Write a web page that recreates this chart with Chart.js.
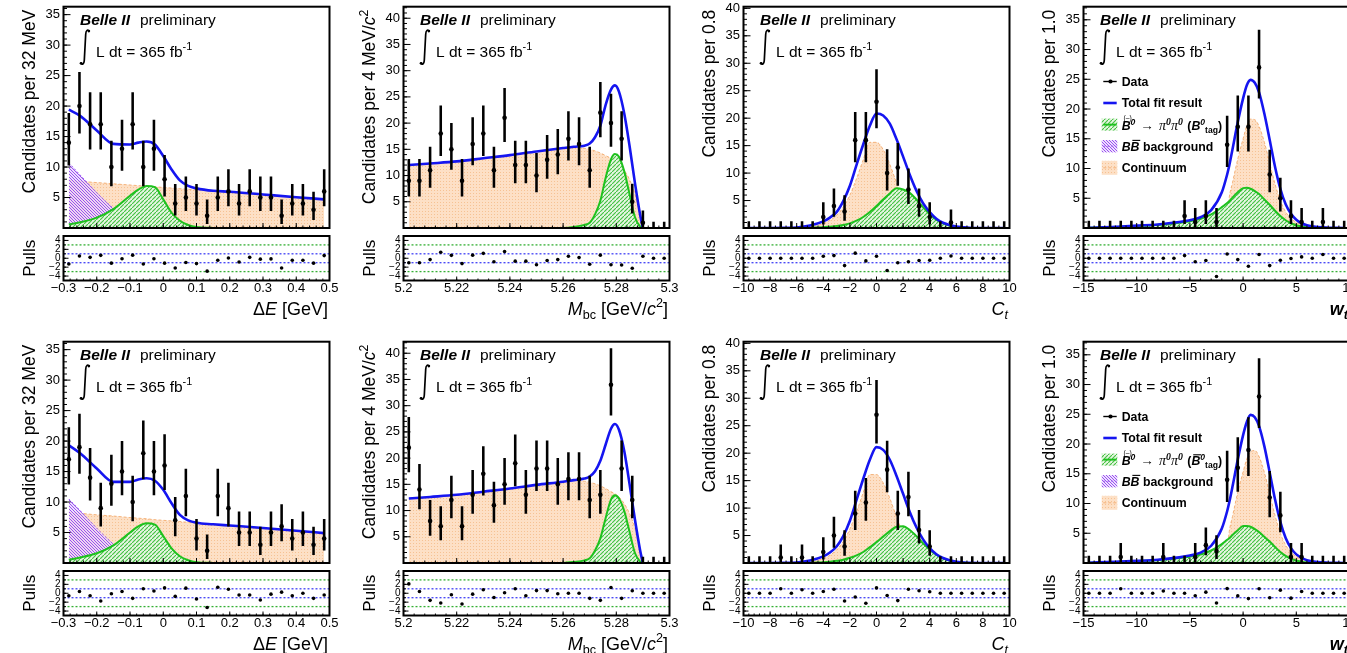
<!DOCTYPE html>
<html lang="en">
<head>
<meta charset="UTF-8">
<title>B0 to pi0 pi0 fit projections</title>
<script src="https://cdn.jsdelivr.net/npm/chart.js"></script>
<style>
  html, body { margin: 0; padding: 0; background: #fff; }
  body { width: 1347px; height: 653px; overflow: hidden; position: relative; }
  canvas { position: absolute; display: block; }
</style>
</head>
<body>
<script>
// ---------------- bin centres ----------------
const deBins = [-0.284,-0.252,-0.22,-0.188,-0.156,-0.124,-0.092,-0.06,-0.028,0.004,0.036,0.068,0.1,0.132,0.164,0.196,0.228,0.26,0.292,0.324,0.356,0.388,0.42,0.452,0.484];
const mbcBins = [5.202,5.206,5.21,5.214,5.218,5.222,5.226,5.23,5.234,5.238,5.242,5.246,5.25,5.254,5.258,5.262,5.266,5.27,5.274,5.278,5.282,5.286,5.29,5.294,5.298];
const ctBins = [-9.6,-8.8,-8,-7.2,-6.4,-5.6,-4.8,-4,-3.2,-2.4,-1.6,-0.8,0,0.8,1.6,2.4,3.2,4,4.8,5.6,6.4,7.2,8,8.8,9.6];
const wtBins = [-14.5,-13.5,-12.5,-11.5,-10.5,-9.5,-8.5,-7.5,-6.5,-5.5,-4.5,-3.5,-2.5,-1.5,-0.5,0.5,1.5,2.5,3.5,4.5,5.5,6.5,7.5,8.5,9.5];

// ---------------- tick labels ----------------
const deTicks = [-0.3,-0.2,-0.1,0,0.1,0.2,0.3,0.4,0.5];
const mbcTicks = [5.2,5.22,5.24,5.26,5.28,5.3];
const ctTicks = [-10,-8,-6,-4,-2,0,2,4,6,8,10];
const wtTicks = [-15,-10,-5,0,5,10];
const yTicks35 = [5,10,15,20,25,30,35];
const yTicks40 = [5,10,15,20,25,30,35,40];
const pullTicks = [-4,-2,0,2,4];
const pullLines = [3,1,-1,-3];

// ---------------- data: counts and pulls (row 1 = B0 tag, row 2 = anti-B0 tag) ----------------
const deCounts1 = [14,20,17,17,10,13,17,10,13,8,4,5,4,2,5,6,4,6,5,5,2,4,4,3,6];
const deCounts2 = [17,19,14,9,13,15,10,18,15,16,7,11,4,2,11,9,5,5,3,5,6,4,5,3,4];
const dePulls1 = [-1.3,0.5,0.2,0.65,-1.1,-0.1,0.7,-1.3,-0.1,-1.1,-2.2,-0.95,-1.2,-2.9,-0.45,0.05,-0.85,0.2,-0.2,-0.15,-2.2,-0.45,-0.45,-1.1,0.6];
const dePulls2 = [-0.55,0.4,-0.55,-1.75,-0.1,0.4,-1.15,1.0,0.5,1.2,-0.7,1.15,-1.3,-3.2,1.35,0.9,-0.4,-0.4,-1.5,-0.2,0.25,-0.55,0,-1.15,-0.4];

const mbcCounts1 = [9,9,11,18,15,9,16,18,11,21,12,12,10,13,14,17,16,11,22,20,17,5,1,0,0];
const mbcCounts2 = [22,14,8,7,12,7,13,17,11,15,19,13,18,18,15,16,16,12,13,34,18,12,0,0,0];
const mbcPulls1 = [-1.0,-1.0,-0.3,1.35,0.65,-1.2,0.7,1.1,-0.8,1.5,-0.65,-0.65,-1.45,-0.5,-0.3,0.45,0.15,-1.35,0.7,-1.45,-1.5,-2.25,0.45,0,0];
const mbcPulls2 = [2.1,0.4,-1.6,-2.2,-0.35,-2.4,-0.2,0.8,-0.95,0.1,1.0,-0.55,0.6,0.6,-0.1,0,0,-1.15,-1.6,1.3,-1.15,0.55,0,0,0];

const ctCounts1 = [0,0,0,0,0,0,0,2,4,3,16,16,23,10,11,7,4,2,0,1,0,0,0,0,0];
const ctCounts2 = [0,0,0,1,0,1,0,2,5,3,9,11,27,17,9,12,6,3,0,0,0,0,0,0,0];
const ctPulls1 = [0,0,0,0,0,0,0,0.45,0.6,-1.65,1.15,-0.6,0.45,-2.75,-1.0,-0.8,-0.5,-0.45,0,0.5,0,0,0,0,0];
const ctPulls2 = [0,0,0,1.0,0,0.8,0,0.4,0.9,-1.75,-0.85,-2.25,1.2,-0.5,-1.65,0.9,0.55,0.35,0,0,0,0,0,0,0];

const wtCounts1 = [0,0,0,0,0,0,0,0,0,2,1,2,1,14,17,17,27,9,5,2,1,0,1,0,0];
const wtCounts2 = [0,0,0,1,0,0,0,1,0,0,1,3,2,14,16,19,28,11,8,1,1,0,0,0,0];
const wtPulls1 = [0,0,0,0,0,0,0,0,0,0.6,-0.8,-0.5,-4.1,0.95,-0.3,-1.8,0.85,-1.65,-0.45,-0.05,0.3,0,0.85,0,0];
const wtPulls2 = [0,0,0,1.0,0,0,0,0.5,0,0,-0.55,0.25,-2.2,1.05,-0.6,-1.2,1.0,-1.0,0.7,-1.1,0.4,0,0,0,0];

// ---------------- fit curves sampled along each observable ----------------
const deGrid = [-0.284,-0.25,-0.2,-0.15,-0.1,-0.075,-0.05,-0.025,0,0.025,0.05,0.075,0.1,0.15,0.2,0.3,0.4,0.484];
const deTotal1 = [19.4,18.4,16.0,13.8,13.7,14.0,14.2,13.7,11.8,9.6,7.8,6.9,6.5,6.1,5.95,5.5,5.05,4.7];
const deCont1 = [7.8,7.65,7.45,7.25,7.05,6.95,6.85,6.75,6.65,6.55,6.45,6.35,6.25,6.05,5.85,5.45,5.05,4.7];
const deSig1 = [0.6,0.95,1.7,3.1,5.3,6.3,6.9,6.7,4.7,2.5,1.2,0.5,0.15,0.02,0,0,0,0];
const deBB1 = [10.7,8.7,5.8,3.2,1.0,0.3,0.05,0,0,0,0,0,0,0,0,0,0,0];
const deTotal2 = [19.3,18.0,15.5,13.3,13.3,13.7,13.9,13.5,12.0,9.8,7.9,7.0,6.6,6.35,6.15,5.75,5.3,4.9];
const deCont2 = [8.3,8.15,7.9,7.7,7.45,7.35,7.25,7.1,7.0,6.9,6.8,6.65,6.55,6.35,6.1,5.65,5.2,4.85];
const deSig2 = [0.55,0.9,1.6,2.9,5.0,6.0,6.5,6.3,4.4,2.4,1.1,0.45,0.13,0.02,0,0,0,0];
const deBB2 = [10.5,8.6,5.7,3.1,1.0,0.3,0.05,0,0,0,0,0,0,0,0,0,0,0];

const mbcGrid = [5.202,5.21,5.22,5.23,5.24,5.25,5.26,5.264,5.268,5.27,5.272,5.274,5.276,5.278,5.2795,5.281,5.283,5.285,5.287,5.289,5.29];
const mbcTotal1 = [12.0,12.3,12.7,13.3,13.9,14.6,15.25,15.5,15.7,16.1,17.3,19.5,23.5,26.4,27.2,26.0,21.8,15.6,8.6,2.4,0];
const mbcCont1 = [12.0,12.3,12.7,13.3,13.9,14.6,15.2,15.3,15.2,15.0,14.7,14.3,13.8,13.3,12.9,12.3,11.0,9.2,6.5,2.2,0];
const mbcSig1 = [0,0,0,0,0,0,0.02,0.2,0.6,1.0,2.6,5.2,9.6,13.1,14.1,13.6,10.8,6.4,2.1,0.25,0];
const mbcBB1 = [0,0,0,0,0,0,0,0.05,0.1,0.12,0.15,0.2,0.25,0.3,0.3,0.3,0.25,0.2,0.1,0.02,0];
const mbcTotal2 = [12.3,12.6,13.0,13.6,14.2,14.9,15.5,15.8,16.1,16.5,17.5,19.5,22.6,25.6,26.5,25.4,21.3,15.0,8.3,2.3,0];
const mbcCont2 = [12.3,12.6,13.0,13.6,14.2,14.9,15.5,15.7,15.6,15.4,15.1,14.7,14.2,13.6,13.2,12.6,11.3,9.4,6.6,2.2,0];
const mbcSig2 = [0,0,0,0,0,0,0.02,0.2,0.5,0.9,2.4,4.7,8.6,12.1,12.9,12.3,9.9,5.9,1.9,0.25,0];
const mbcBB2 = [0,0,0,0,0,0,0,0.05,0.1,0.12,0.15,0.2,0.25,0.3,0.3,0.3,0.25,0.2,0.1,0.02,0];

const ctGrid = [-9.6,-8,-7,-6,-5,-4,-3.5,-3,-2.5,-2,-1.5,-1,-0.5,0,0.5,1,1.5,2,2.5,3,3.5,4,4.5,5,6,7,8,9.6];
const ctTotal1 = [0,0,0.02,0.1,0.45,1.2,1.9,2.9,4.9,7.7,11.5,15.2,18.6,20.85,20.5,19.0,16.2,13.0,9.7,6.8,4.5,2.9,1.7,0.95,0.25,0.05,0.01,0];
const ctCont1 = [0,0,0,0.02,0.15,0.8,1.4,2.3,3.8,6.0,9.0,12.4,15.6,15.6,14.3,11.6,8.3,5.4,3.1,1.6,0.7,0.3,0.1,0.03,0,0,0,0];
const ctSig1 = [0,0,0,0.02,0.06,0.15,0.25,0.35,0.55,0.85,1.35,2.0,2.9,4.0,5.2,6.3,7.25,7.0,6.4,5.2,3.8,2.5,1.5,0.85,0.2,0.02,0,0];
const ctBB1 = [0,0,0,0,0,0.02,0.03,0.05,0.08,0.1,0.13,0.17,0.2,0.22,0.22,0.2,0.17,0.13,0.1,0.07,0.04,0.02,0.01,0,0,0,0,0];
const ctTotal2 = [0,0,0.02,0.1,0.45,1.2,1.9,3.0,4.9,7.7,11.5,15.3,18.8,21.1,20.6,18.8,15.9,12.6,9.3,6.5,4.3,2.7,1.6,0.9,0.2,0.04,0.01,0];
const ctCont2 = [0,0,0,0.02,0.15,0.8,1.4,2.4,3.9,6.2,9.3,12.8,16.1,16.1,14.6,11.8,8.4,5.4,3.1,1.6,0.7,0.3,0.1,0.03,0,0,0,0];
const ctSig2 = [0,0,0,0.02,0.06,0.15,0.25,0.4,0.6,0.95,1.4,2.0,2.9,3.8,4.8,5.8,6.6,6.7,6.0,4.9,3.6,2.4,1.5,0.85,0.2,0.02,0,0];
const ctBB2 = [0,0,0,0,0,0.02,0.03,0.05,0.08,0.1,0.13,0.17,0.2,0.22,0.22,0.2,0.17,0.13,0.1,0.07,0.04,0.02,0.01,0,0,0,0,0];

const wtGrid = [-14.5,-12,-10,-8,-6,-5,-4,-3,-2,-1.5,-1.3,-1,-0.5,0,0.35,0.7,1.1,1.5,2,2.5,3,3.5,4,4.5,5,5.5,6,7,8,9.5];
const wtTotal1 = [0.05,0.2,0.4,0.6,1.0,1.3,1.8,3.0,6.0,9.0,10.5,13.2,17.8,21.8,24.0,24.9,24.4,22.8,19.2,14.8,10.3,6.6,4.0,2.4,1.4,0.8,0.45,0.15,0.05,0.01];
const wtCont1 = [0,0,0,0,0,0,0,0,0,2.0,5.2,7.6,11.6,15.0,17.2,18.3,18.2,17.1,14.4,10.9,7.4,4.6,2.7,1.6,0.95,0.55,0.33,0.12,0.05,0];
const wtSig1 = [0.05,0.18,0.35,0.55,0.9,1.15,1.55,2.3,3.5,4.2,4.5,5.1,6.0,6.7,6.75,6.6,6.2,5.7,4.8,3.9,2.9,2.0,1.3,0.8,0.45,0.25,0.12,0.03,0,0];
const wtBB1 = [0,0,0,0,0,0.02,0.04,0.07,0.1,0.12,0.13,0.15,0.18,0.2,0.2,0.19,0.17,0.15,0.12,0.09,0.06,0.04,0.02,0.01,0,0,0,0,0,0];
const wtTotal2 = [0.05,0.2,0.35,0.55,0.95,1.25,1.75,2.9,5.8,8.7,10.2,12.8,17.4,21.5,23.7,24.9,24.5,23.0,19.6,15.2,10.7,6.9,4.2,2.5,1.45,0.85,0.48,0.15,0.05,0.01];
const wtCont2 = [0,0,0,0,0,0,0,0,0,2.0,5.3,7.8,11.9,15.3,17.5,18.7,18.9,17.9,15.2,11.6,8.0,5.0,3.0,1.8,1.05,0.6,0.36,0.12,0.05,0];
const wtSig2 = [0.05,0.17,0.32,0.5,0.83,1.06,1.43,2.1,3.2,3.9,4.15,4.7,5.5,6.2,6.2,6.1,5.7,5.2,4.4,3.6,2.7,1.85,1.2,0.74,0.41,0.23,0.11,0.03,0,0];
const wtBB2 = [0,0,0,0,0,0.02,0.04,0.07,0.1,0.12,0.13,0.15,0.18,0.2,0.2,0.19,0.17,0.15,0.12,0.09,0.06,0.04,0.02,0.01,0,0,0,0,0,0];

// ---------------- look ----------------
const SANS = "'Liberation Sans', Arial, Helvetica, sans-serif";
const SERIF = "'Liberation Serif', 'Times New Roman', serif";
const BLUE = '#1515f0', GREEN = '#1ec21e', GREEN_HATCH = '#3fbf3f', GREEN_BG = '#e6f6e1',
      PURPLE = '#9b59f0', PURPLE_HATCH = '#9a52ee', PURPLE_BG = 'rgba(232,214,255,0.75)',
      ORANGE_LINE = '#f4b27a', PEACH = '#fde0c6', PEACH_DOT = '#f6c293',
      BAND_GREEN = '#34b034', BAND_BLUE = '#4242f5';

const PAD_W = 340, MAIN_H = 232, PULL_H = 100;
const FR = { left: 63.5, right: 329.5, top: 6.7, bottom: 229.3 };
const PF = { top: 1.8, bottom: 48.5 };
const COL_X = [0, 340, 680, 1020];
const ROW_Y = [0, 335];

const lumiText = [{ t: 'L dt = 365 fb' }, { t: '-1', sup: 1 }];
const legendY = [74.8, 96.3, 117.9, 139.5, 161.1];

const panels = [
  { bins: deBins, counts: [deCounts1, deCounts2], pulls: [dePulls1, dePulls2], grid: deGrid,
    total: [deTotal1, deTotal2], sig: [deSig1, deSig2], bb: [deBB1, deBB2], cont: [deCont1, deCont2],
    xMin: -0.3, xMax: 0.5, xTicks: deTicks, xMinor: 0.02, yMax: 36.3, yTicks: yTicks35,
    xTitle: [{ t: 'Δ' }, { t: 'E', i: 1 }, { t: ' [GeV]' }],
    yTitle: [{ t: 'Candidates per 32 MeV' }] },
  { bins: mbcBins, counts: [mbcCounts1, mbcCounts2], pulls: [mbcPulls1, mbcPulls2], grid: mbcGrid,
    total: [mbcTotal1, mbcTotal2], sig: [mbcSig1, mbcSig2], bb: [mbcBB1, mbcBB2], cont: [mbcCont1, mbcCont2],
    xMin: 5.2, xMax: 5.3, xTicks: mbcTicks, xMinor: 0.004, yMax: 42.2, yTicks: yTicks40,
    xTitle: [{ t: 'M', i: 1 }, { t: 'bc', sub: 1 }, { t: ' [GeV/' }, { t: 'c', i: 1 }, { t: '2', sup: 1 }, { t: ']' }],
    yTitle: [{ t: 'Candidates per 4 MeV/' }, { t: 'c', i: 1 }, { t: '2', sup: 1 }] },
  { bins: ctBins, counts: [ctCounts1, ctCounts2], pulls: [ctPulls1, ctPulls2], grid: ctGrid,
    total: [ctTotal1, ctTotal2], sig: [ctSig1, ctSig2], bb: [ctBB1, ctBB2], cont: [ctCont1, ctCont2],
    xMin: -10, xMax: 10, xTicks: ctTicks, xMinor: 0.4, yMax: 40.3, yTicks: yTicks40,
    xTitle: [{ t: 'C', i: 1 }, { t: 't', i: 1, sub: 1 }],
    yTitle: [{ t: 'Candidates per 0.8' }] },
  { bins: wtBins, counts: [wtCounts1, wtCounts2], pulls: [wtPulls1, wtPulls2], grid: wtGrid,
    total: [wtTotal1, wtTotal2], sig: [wtSig1, wtSig2], bb: [wtBB1, wtBB2], cont: [wtCont1, wtCont2],
    xMin: -15, xMax: 10, xTicks: wtTicks, xMinor: 1, yMax: 37.2, yTicks: yTicks35,
    xTitle: [{ t: 'w', i: 1, b: 1 }, { t: 't', i: 1, b: 1, sub: 1 }],
    yTitle: [{ t: 'Candidates per 1.0' }] }
];

// ---------------- helpers ----------------
// 68% Poisson interval (Gehrels approximation); empty bins get a short upward bar
function poissonBand(n) {
  if (n === 0) return [0, 1.15];
  const lo = n * Math.pow(1 - 1 / (9 * n) - 1 / (3 * Math.sqrt(n)), 3);
  const hi = (n + 1) * Math.pow(1 - 1 / (9 * (n + 1)) + 1 / (3 * Math.sqrt(n + 1)), 3);
  return [lo, hi];
}

const fmtTick = v => String(Math.round(v * 1000) / 1000).replace('-', '\u2212');

function steps(min, max, step) {
  const out = [];
  const k0 = Math.ceil(min / step - 1e-6), k1 = Math.floor(max / step + 1e-6);
  for (let k = k0; k <= k1; k++) out.push(k * step);
  return out;
}

// keep the frame exactly where the layout puts it: no extra room for edge labels
function noLabelPadding(s) {
  s.paddingTop = 0; s.paddingBottom = 0; s.paddingLeft = 0; s.paddingRight = 0;
}

function makeCanvas(left, top, w, h) {
  const c = document.createElement('canvas');
  c.width = w; c.height = h;
  c.style.left = left + 'px'; c.style.top = top + 'px';
  c.style.width = w + 'px'; c.style.height = h + 'px';
  document.body.appendChild(c);
  return c;
}

function hatch(ctx, bg, fg, slash, step, lw) {
  const t = document.createElement('canvas');
  t.width = t.height = step;
  const g = t.getContext('2d');
  if (bg) { g.fillStyle = bg; g.fillRect(0, 0, step, step); }
  g.strokeStyle = fg; g.lineWidth = lw;
  g.beginPath();
  if (slash) {
    g.moveTo(-1, step + 1); g.lineTo(step + 1, -1);
  } else {
    g.moveTo(-1, -1); g.lineTo(step + 1, step + 1);
  }
  g.stroke();
  return ctx.createPattern(t, 'repeat');
}

function dots(ctx) {
  const t = document.createElement('canvas');
  t.width = t.height = 3;
  const g = t.getContext('2d');
  g.fillStyle = PEACH; g.fillRect(0, 0, 3, 3);
  g.fillStyle = PEACH_DOT; g.fillRect(1, 1, 1, 1);
  return ctx.createPattern(t, 'repeat');
}

function fontStr(sz, b, i, serif) {
  return (i ? 'italic ' : '') + (b ? 'bold ' : '') + sz + 'px ' + (serif ? SERIF : SANS);
}

// text run with italics, super/subscripts, bars and the (-) accent
function drawRich(ctx, x, y, parts, size, align) {
  const run = parts.map(p => {
    const base = size * (p.k || 1);
    const sz = (p.sup || p.sub) ? base * 0.7 : base;
    const font = fontStr(sz, p.b, p.i, p.serif);
    ctx.font = font;
    return { p, sz, font, w: ctx.measureText(p.t).width + (p.gap || 0) };
  });
  const total = run.reduce((s, r) => s + r.w, 0);
  let cx = align === 'right' ? x - total : align === 'center' ? x - total / 2 : x;
  ctx.textAlign = 'left';
  ctx.textBaseline = 'alphabetic';
  for (const r of run) {
    ctx.font = r.font;
    const dy = r.p.sup ? -0.42 * size : r.p.sub ? 0.24 * size : 0;
    ctx.fillText(r.p.t, cx, y + dy);
    if (r.p.over) {
      ctx.save();
      ctx.strokeStyle = ctx.fillStyle; ctx.lineWidth = 1.1;
      ctx.beginPath();
      ctx.moveTo(cx + 1.8, y - 0.83 * size); ctx.lineTo(cx + r.w + 0.8, y - 0.83 * size);
      ctx.stroke();
      ctx.restore();
    }
    if (r.p.acc) {
      ctx.save();
      ctx.font = fontStr(size * 0.55, false, false, false);
      ctx.textAlign = 'center';
      ctx.fillText('(\u2013)', cx + r.w / 2 + 1.5, y - 0.82 * size);
      ctx.restore();
    }
    cx += r.w;
  }
  return total;
}

function marks(ctx, scale, a, axis, vals, len) {
  ctx.beginPath();
  for (const v of vals) {
    const q = scale.getPixelForValue(v);
    if (axis === 'x') { ctx.moveTo(q, a.bottom); ctx.lineTo(q, a.bottom - len); }
    else { ctx.moveTo(a.left, q); ctx.lineTo(a.left + len, q); }
  }
  ctx.stroke();
}

function integral(ctx, L, T) {
  ctx.save();
  ctx.strokeStyle = '#000'; ctx.fillStyle = '#000';
  ctx.lineWidth = 1.7; ctx.lineCap = 'round';
  ctx.beginPath();
  ctx.moveTo(L + 25.3, T + 24.6);
  ctx.bezierCurveTo(L + 24.5, T + 22.6, L + 22.4, T + 23.2, L + 22.2, T + 27.5);
  ctx.lineTo(L + 20.8, T + 53.5);
  ctx.bezierCurveTo(L + 20.6, T + 57.8, L + 18.4, T + 58.4, L + 17.6, T + 56.4);
  ctx.stroke();
  ctx.beginPath(); ctx.arc(L + 25.4, T + 24.4, 1.3, 0, 2 * Math.PI); ctx.fill();
  ctx.beginPath(); ctx.arc(L + 17.6, T + 56.6, 1.4, 0, 2 * Math.PI); ctx.fill();
  ctx.restore();
}

function drawLegend(ctx, a, row, pats) {
  const L = a.left, T = a.top;
  const ys = legendY.map(v => T + v);
  const x0 = L + 19.8, x1 = L + 33.2, bx = L + 18.2, bw = 15.6, tx = L + 38.2;
  const seg = (y) => { ctx.beginPath(); ctx.moveTo(x0, y); ctx.lineTo(x1, y); ctx.stroke(); };
  ctx.save();
  // data
  ctx.strokeStyle = '#000'; ctx.lineWidth = 1.4; seg(ys[0]);
  ctx.fillStyle = '#000'; ctx.beginPath(); ctx.arc(L + 27, ys[0], 2.1, 0, 2 * Math.PI); ctx.fill();
  // total fit
  ctx.strokeStyle = BLUE; ctx.lineWidth = 2.6; seg(ys[1]);
  // signal
  ctx.fillStyle = pats.sig; ctx.fillRect(bx, ys[2] - 6, bw, 12);
  ctx.strokeStyle = GREEN; ctx.lineWidth = 2; seg(ys[2]);
  // BB background
  ctx.fillStyle = pats.bb; ctx.fillRect(bx, ys[3] - 6.2, bw, 12.4);
  ctx.strokeStyle = PURPLE; ctx.lineWidth = 1; ctx.setLineDash([2, 2]); seg(ys[3]);
  // continuum
  ctx.fillStyle = pats.cont; ctx.fillRect(bx, ys[4] - 7, bw, 14);
  ctx.strokeStyle = ORANGE_LINE; ctx.setLineDash([3, 2]); seg(ys[4]);
  ctx.setLineDash([]);

  ctx.fillStyle = '#000';
  const s = 12.3, dy = 4.4;
  drawRich(ctx, tx, ys[0] + dy, [{ t: 'Data', b: 1 }], s, 'left');
  drawRich(ctx, tx, ys[1] + dy, [{ t: 'Total fit result', b: 1 }], s, 'left');
  drawRich(ctx, tx, ys[2] + dy + 1, [
    { t: 'B', b: 1, i: 1, acc: 1 }, { t: '0', b: 1, i: 1, sup: 1, gap: 5 },
    { t: '\u2192', k: 1.1, gap: 5 },
    { t: '\u03c0', i: 1, serif: 1, k: 1.15 }, { t: '0', i: 1, b: 1, sup: 1, serif: 1, k: 1.15 },
    { t: '\u03c0', i: 1, serif: 1, k: 1.15 }, { t: '0', i: 1, b: 1, sup: 1, serif: 1, k: 1.15, gap: 1 },
    { t: ' (', b: 1 }, { t: 'B', b: 1, i: 1, over: row === 1 }, { t: '0', b: 1, i: 1, sup: 1 },
    { t: 'tag', b: 1, sub: 1 }, { t: ')', b: 1 }
  ], s, 'left');
  drawRich(ctx, tx, ys[3] + dy, [{ t: 'B', b: 1, i: 1 }, { t: 'B', b: 1, i: 1, over: 1 }, { t: ' background', b: 1 }], s, 'left');
  drawRich(ctx, tx, ys[4] + dy, [{ t: 'Continuum', b: 1 }], s, 'left');
  ctx.restore();
}

function mainDecor(p, row, withLegend, pats) {
  return {
    id: 'mainDecor',
    afterDatasetsDraw(chart) {
      const { ctx, chartArea: a, scales } = chart;
      ctx.save();
      ctx.strokeStyle = '#000';
      ctx.lineWidth = 1;
      marks(ctx, scales.x, a, 'x', steps(p.xMin, p.xMax, p.xMinor), 2.5);
      marks(ctx, scales.x, a, 'x', p.xTicks, 5);
      marks(ctx, scales.y, a, 'y', steps(0, p.yMax, 1), 3.5);
      marks(ctx, scales.y, a, 'y', p.yTicks, 7);
      ctx.lineWidth = 2;
      ctx.strokeRect(a.left, a.top, a.right - a.left, a.bottom - a.top);

      ctx.fillStyle = '#000';
      drawRich(ctx, a.left + 16.5, a.top + 17.8, [{ t: 'Belle II', b: 1, i: 1 }], 15.5, 'left');
      drawRich(ctx, a.left + 76.5, a.top + 17.8, [{ t: 'preliminary' }], 15.5, 'left');
      integral(ctx, a.left, a.top);
      drawRich(ctx, a.left + 32.5, a.top + 50.3, lumiText, 15.5, 'left');

      ctx.save();
      ctx.translate(35, a.top + 3);
      ctx.rotate(-Math.PI / 2);
      drawRich(ctx, 0, 0, p.yTitle, 17.5, 'right');
      ctx.restore();

      if (withLegend) drawLegend(ctx, a, row, pats);
      ctx.restore();
    }
  };
}

function pullDecor(p) {
  return {
    id: 'pullDecor',
    afterDatasetsDraw(chart) {
      const { ctx, chartArea: a, scales } = chart;
      ctx.save();
      ctx.strokeStyle = '#000';
      ctx.lineWidth = 1;
      marks(ctx, scales.x, a, 'x', steps(p.xMin, p.xMax, p.xMinor), 2);
      marks(ctx, scales.x, a, 'x', p.xTicks, 4);
      marks(ctx, scales.y, a, 'y', steps(-5, 5, 1), 2.5);
      marks(ctx, scales.y, a, 'y', pullTicks, 5);
      ctx.lineWidth = 2;
      ctx.strokeRect(a.left, a.top, a.right - a.left, a.bottom - a.top);

      ctx.fillStyle = '#000';
      ctx.save();
      ctx.translate(35, (a.top + a.bottom) / 2);
      ctx.rotate(-Math.PI / 2);
      drawRich(ctx, 0, 0, [{ t: 'Pulls' }], 17, 'center');
      ctx.restore();
      drawRich(ctx, a.right - 1.5, 82.5, p.xTitle, 18, 'right');
      ctx.restore();
    }
  };
}

const baseOptions = () => ({
  responsive: false,
  animation: false,
  events: [],
  plugins: { legend: { display: false }, tooltip: { enabled: false } }
});

function buildMain(p, row, left, top, withLegend) {
  const c = makeCanvas(left, top, PAD_W, MAIN_H);
  const ctx = c.getContext('2d');
  const pats = {
    sig: hatch(ctx, GREEN_BG, GREEN_HATCH, true, 4, 1.1),
    bb: hatch(ctx, PURPLE_BG, PURPLE_HATCH, false, 3, 1),
    cont: dots(ctx)
  };
  const counts = p.counts[row];
  const pts = [], bars = [];
  p.bins.forEach((b, i) => {
    bars.push({ x: b, y: poissonBand(counts[i]) });
    if (counts[i] > 0) pts.push({ x: b, y: counts[i] });
  });
  const curve = (vals, extra) => Object.assign({
    type: 'line',
    data: p.grid.map((x, i) => ({ x, y: vals[i] })),
    pointRadius: 0,
    cubicInterpolationMode: 'monotone',
    fill: false
  }, extra);

  const opts = baseOptions();
  opts.layout = { padding: { left: 0, top: FR.top, right: PAD_W - FR.right, bottom: MAIN_H - FR.bottom } };
  opts.scales = {
    x: { type: 'linear', min: p.xMin, max: p.xMax, display: false, offset: false },
    y: {
      type: 'linear', min: 0, max: p.yMax, offset: false,
      grid: { display: false, drawTicks: false }, border: { display: false },
      ticks: { font: { family: SANS, size: 13 }, color: '#000', padding: 3.5, autoSkip: false, callback: fmtTick },
      afterBuildTicks: s => { s.ticks = p.yTicks.map(v => ({ value: v })); },
      afterFit: s => { s.width = FR.left; noLabelPadding(s); }
    }
  };

  new Chart(c, {
    type: 'scatter',
    data: {
      datasets: [
        { type: 'scatter', data: pts, pointRadius: 2.3, pointBackgroundColor: '#000', pointBorderWidth: 0 },
        { type: 'bar', data: bars, backgroundColor: '#000', barThickness: 1.9, borderWidth: 0, grouped: false },
        curve(p.total[row], { borderColor: BLUE, borderWidth: 2.6 }),
        curve(p.sig[row], { borderColor: GREEN, borderWidth: 2, fill: 'origin', backgroundColor: pats.sig }),
        curve(p.bb[row], { borderColor: PURPLE, borderWidth: 1, borderDash: [2, 2], fill: 'origin', backgroundColor: pats.bb }),
        curve(p.cont[row], { borderColor: ORANGE_LINE, borderWidth: 1, borderDash: [3, 2], fill: 'origin', backgroundColor: pats.cont })
      ]
    },
    options: opts,
    plugins: [mainDecor(p, row, withLegend, pats)]
  });
}

function buildPulls(p, row, left, top) {
  const c = makeCanvas(left, top, PAD_W, PULL_H);
  const pulls = p.pulls[row].map((v, i) => ({ x: p.bins[i], y: v }));
  const band = v => ({
    type: 'line',
    data: [{ x: p.xMin, y: v }, { x: p.xMax, y: v }],
    borderColor: Math.abs(v) > 2 ? BAND_GREEN : BAND_BLUE,
    borderWidth: 1.3, borderDash: [2, 2], pointRadius: 0, fill: false
  });

  const opts = baseOptions();
  opts.layout = { padding: { left: 0, top: PF.top, right: PAD_W - FR.right, bottom: 0 } };
  opts.scales = {
    x: {
      type: 'linear', min: p.xMin, max: p.xMax, offset: false,
      grid: { display: false, drawTicks: false }, border: { display: false },
      ticks: { font: { family: SANS, size: 13 }, color: '#000', padding: 0, autoSkip: false, maxRotation: 0, minRotation: 0, callback: fmtTick },
      afterBuildTicks: s => { s.ticks = p.xTicks.map(v => ({ value: v })); },
      afterFit: s => { s.height = PULL_H - PF.bottom; noLabelPadding(s); }
    },
    y: {
      type: 'linear', min: -5, max: 5, offset: false,
      grid: { display: false, drawTicks: false }, border: { display: false },
      ticks: { font: { family: SANS, size: 10 }, color: '#000', padding: 3, autoSkip: false, callback: fmtTick },
      afterBuildTicks: s => { s.ticks = pullTicks.map(v => ({ value: v })); },
      afterFit: s => { s.width = FR.left; noLabelPadding(s); }
    }
  };

  new Chart(c, {
    type: 'scatter',
    data: {
      datasets: [
        { data: pulls, pointRadius: 1.8, pointBackgroundColor: '#000', pointBorderWidth: 0 },
        ...pullLines.map(band)
      ]
    },
    options: opts,
    plugins: [pullDecor(p)]
  });
}

ROW_Y.forEach((y0, row) => {
  panels.forEach((p, k) => {
    buildMain(p, row, COL_X[k], y0, k === 3);
    buildPulls(p, row, COL_X[k], y0 + MAIN_H);
  });
});
</script>
</body>
</html>
